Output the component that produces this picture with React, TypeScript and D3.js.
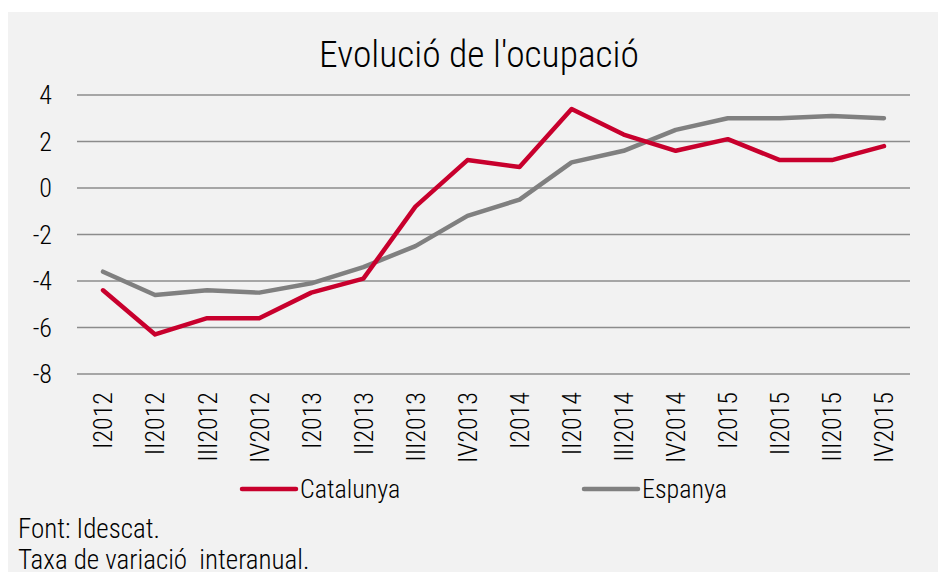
import React, { useEffect, useRef } from 'react';
import * as d3 from 'd3';

const quarters = [
  'I2012', 'II2012', 'III2012', 'IV2012',
  'I2013', 'II2013', 'III2013', 'IV2013',
  'I2014', 'II2014', 'III2014', 'IV2014',
  'I2015', 'II2015', 'III2015', 'IV2015',
];
const catalunya = [-4.4, -6.3, -5.6, -5.6, -4.5, -3.9, -0.8, 1.2, 0.9, 3.4, 2.3, 1.6, 2.1, 1.2, 1.2, 1.8];
const espanya = [-3.6, -4.6, -4.4, -4.5, -4.1, -3.4, -2.5, -1.2, -0.5, 1.1, 1.6, 2.5, 3.0, 3.0, 3.1, 3.0];
const yTicks = [4, 2, 0, -2, -4, -6, -8];

const series = [
  { name: 'Catalunya', values: catalunya, color: '#c8002d' },
  { name: 'Espanya', values: espanya, color: '#808080' },
];

const FONT = '"Roboto Condensed", "Liberation Sans Narrow", sans-serif';

export default function App() {
  const ref = useRef<SVGSVGElement>(null);

  useEffect(() => {
    const svg = d3.select(ref.current);
    svg.selectAll('*').remove();

    const width = 938;
    const height = 572;

    // panel background
    svg.append('rect')
      .attr('x', 8).attr('y', 12)
      .attr('width', width - 8).attr('height', height - 12)
      .attr('fill', '#f2f2f2');

    const x = d3.scaleBand().domain(quarters).range([77, 910]);
    const y = d3.scaleLinear().domain([-8, 4]).range([374, 95]);

    const txt = (sel: any, size: number) =>
      sel.style('font-family', FONT)
        .style('font-size', `${size}px`)
        .style('font-weight', 300)
        .attr('fill', '#000');

    // title
    txt(svg.append('text')
      .attr('x', 479).attr('y', 67)
      .attr('text-anchor', 'middle'), 37.5)
      .text("Evolució de l'ocupació");

    // gridlines
    svg.append('g').selectAll('line')
      .data(yTicks)
      .enter().append('line')
      .attr('x1', 77).attr('x2', 910)
      .attr('y1', d => y(d)).attr('y2', d => y(d))
      .attr('stroke', '#8c8c8c')
      .attr('stroke-width', 1.5);

    // y labels
    txt(svg.append('g').selectAll('text')
      .data(yTicks)
      .enter().append('text')
      .attr('x', 52).attr('y', d => y(d))
      .attr('dy', '0.36em')
      .attr('text-anchor', 'end'), 26)
      .text(d => d);

    // x labels rotated
    txt(svg.append('g').selectAll('text')
      .data(quarters)
      .enter().append('text')
      .attr('transform', d => `translate(${x(d)! + x.bandwidth() / 2},392) rotate(-90)`)
      .attr('dy', '0.36em')
      .attr('text-anchor', 'end'), 26)
      .text(d => d);

    const line = d3.line<number>()
      .x((_, i) => x(quarters[i])! + x.bandwidth() / 2)
      .y(d => y(d));

    // Espanya drawn first, then Catalunya on top
    [...series].reverse().forEach(s => {
      svg.append('path')
        .datum(s.values)
        .attr('d', line)
        .attr('fill', 'none')
        .attr('stroke', s.color)
        .attr('stroke-width', 4.5)
        .attr('stroke-linejoin', 'round')
        .attr('stroke-linecap', 'round');
    });

    // legend
    const legendX = [242, 584];
    series.forEach((s, i) => {
      const lg = svg.append('g').attr('transform', `translate(${legendX[i]},489)`);
      lg.append('line')
        .attr('x1', 0).attr('x2', 54)
        .attr('stroke', s.color)
        .attr('stroke-width', 4.5)
        .attr('stroke-linecap', 'round');
      txt(lg.append('text')
        .attr('x', 58).attr('dy', '0.33em'), 26)
        .text(s.name);
    });

    // footnotes
    txt(svg.append('text')
      .attr('x', 18).attr('y', 538), 27)
      .text('Font: Idescat.');
    txt(svg.append('text')
      .attr('x', 18).attr('y', 569), 27)
      .style('white-space', 'pre')
      .text('Taxa de variació  interanual.');
  }, []);

  return (
    <svg
      ref={ref}
      width={938}
      height={572}
      style={{ position: 'absolute', left: 0, top: 0 }}
    />
  );
}
